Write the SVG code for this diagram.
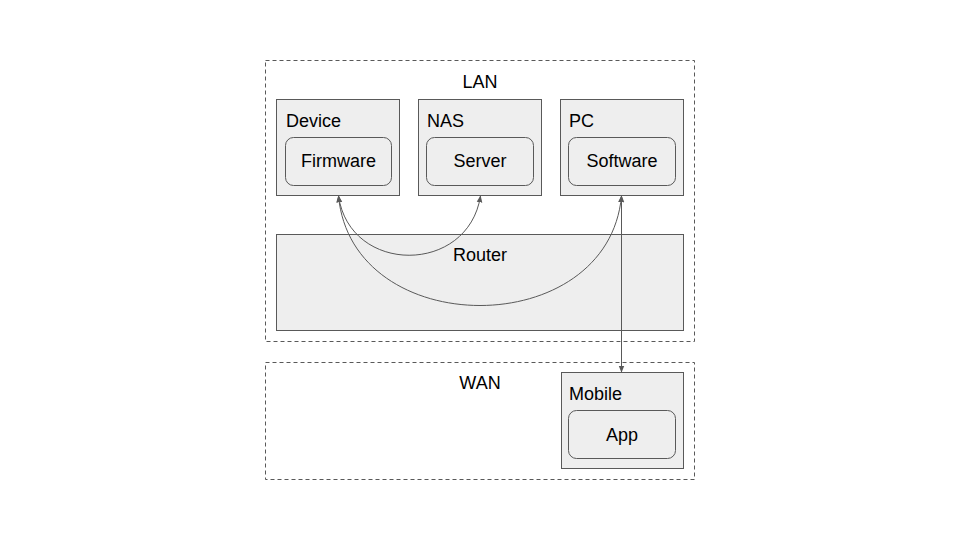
<svg xmlns="http://www.w3.org/2000/svg" width="960" height="540" viewBox="0 0 960 540">
<style>
.zone{fill:none;stroke:#595959;stroke-width:1;stroke-dasharray:4,3}
.box{fill:#eeeeee;stroke:#595959;stroke-width:1}
.inner{fill:#eeeeee;stroke:#595959;stroke-width:1}
text{font-family:"Liberation Sans",Arial,sans-serif;font-size:18px;fill:#000}
.c{text-anchor:middle}
.link{fill:none;stroke:#595959;stroke-width:1}
</style>
<defs>
<marker id="ah" viewBox="0 0 10 10" refX="9" refY="5" markerWidth="7" markerHeight="7" orient="auto-start-reverse" markerUnits="userSpaceOnUse">
<path d="M0,1 L10,5 L0,9 z" fill="#595959"/>
</marker>
</defs>
<rect width="960" height="540" fill="#ffffff"/>
<g id="lan">
<rect class="zone" x="265.5" y="60.5" width="429" height="281"/>
<text class="c" x="480" y="88">LAN</text>
</g>
<g id="wan">
<rect class="zone" x="265.5" y="362.5" width="429" height="117"/>
<text class="c" x="480" y="389">WAN</text>
</g>
<g id="router">
<rect class="box" x="276.5" y="234.5" width="407" height="96"/>
<text class="c" x="480" y="261">Router</text>
</g>
<g id="device">
<rect class="box" x="276.5" y="99.5" width="123" height="96"/>
<text x="286" y="127">Device</text>
<rect class="inner" x="285.5" y="137.5" width="106" height="48" rx="8"/>
<text class="c" x="338.5" y="167">Firmware</text>
</g>
<g id="nas">
<rect class="box" x="418.5" y="99.5" width="123" height="96"/>
<text x="427" y="127">NAS</text>
<rect class="inner" x="426.5" y="137.5" width="107" height="48" rx="8"/>
<text class="c" x="480" y="167">Server</text>
</g>
<g id="pc">
<rect class="box" x="560.5" y="99.5" width="123" height="96"/>
<text x="569" y="127">PC</text>
<rect class="inner" x="568.5" y="137.5" width="107" height="48" rx="8"/>
<text class="c" x="622" y="167">Software</text>
</g>
<g id="mobile">
<rect class="box" x="561.5" y="372.5" width="122" height="96"/>
<text x="569" y="400">Mobile</text>
<rect class="inner" x="568.5" y="410.5" width="107" height="48" rx="8"/>
<text class="c" x="622" y="441">App</text>
</g>
<g id="connectors">
<path class="link" d="M338.5,196 C350,275 468,275 480.5,196" marker-start="url(#ah)" marker-end="url(#ah)"/>
<path class="link" d="M338.5,196 C352,342 608,342 621.5,196" marker-start="url(#ah)" marker-end="url(#ah)"/>
<path class="link" d="M621.5,196 L621.5,372" marker-start="url(#ah)" marker-end="url(#ah)"/>
</g>
</svg>
